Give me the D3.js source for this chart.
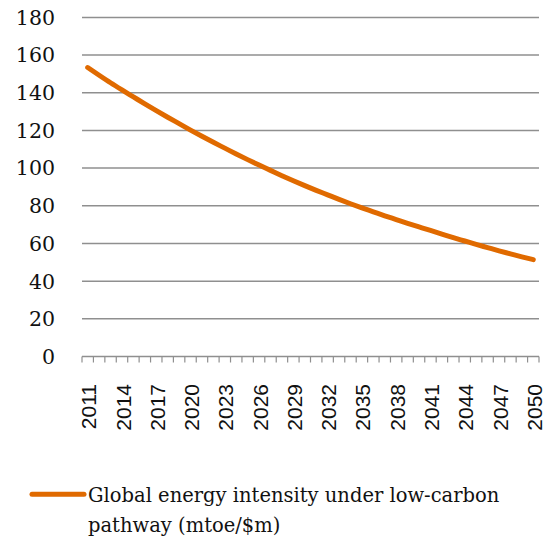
<!DOCTYPE html>
<html>
<head>
<meta charset="utf-8">
<script src="https://cdn.jsdelivr.net/npm/d3@7"></script>
<style>
  html, body { margin: 0; padding: 0; background: #fff; }
  svg { display: block; }
</style>
</head>
<body>
<svg id="chart" width="552" height="539"></svg>
<script>
const years = [2011,2012,2013,2014,2015,2016,2017,2018,2019,2020,
               2021,2022,2023,2024,2025,2026,2027,2028,2029,2030,
               2031,2032,2033,2034,2035,2036,2037,2038,2039,2040,
               2041,2042,2043,2044,2045,2046,2047,2048,2049,2050];
const intensity = [153.4,149.3,145.3,141.5,137.8,134.1,130.5,127.0,123.6,120.2,
                   116.9,113.7,110.6,107.5,104.5,101.6,98.8,96.0,93.3,90.7,
                   88.2,85.8,83.4,81.1,78.9,76.8,74.7,72.7,70.7,68.8,
                   66.9,65.0,63.1,61.3,59.5,57.8,56.1,54.5,52.9,51.4];
const yTicks = [0,20,40,60,80,100,120,140,160,180];
const xLabelYears = [2011,2014,2017,2020,2023,2026,2029,2032,2035,2038,2041,2044,2047,2050];
const seriesName = ["Global energy intensity under low-carbon", "pathway (mtoe/$m)"];

const svg = d3.select("#chart");
const pLeft = 82, pRight = 539, pTop = 17.4, pBottom = 356.5;
const orange = "#e06a00";
const grid = "#8f8f8f";

const x = d3.scaleBand().domain(years).range([pLeft, pRight]).padding(0);
const y = d3.scaleLinear().domain([0, 180]).range([pBottom, pTop]);

// gridlines
svg.append("g").selectAll("line").data(yTicks.filter(d => d > 0)).join("line")
  .attr("x1", pLeft).attr("x2", pRight)
  .attr("y1", d => y(d)).attr("y2", d => y(d))
  .attr("stroke", grid).attr("stroke-width", 1.5);

// y labels
svg.append("g").selectAll("text").data(yTicks).join("text")
  .attr("x", 55).attr("y", d => y(d)).attr("dy", "0.36em")
  .attr("text-anchor", "end")
  .attr("font-family", "'DejaVu Serif', serif").attr("font-size", 20.5)
  .attr("fill", "#111")
  .text(d => d);

// x axis line + ticks at band boundaries
svg.append("line").attr("x1", pLeft).attr("x2", pRight)
  .attr("y1", pBottom).attr("y2", pBottom)
  .attr("stroke", grid).attr("stroke-width", 1.5);
const bounds = years.map(d => x(d)).concat([x(years[years.length-1]) + x.bandwidth()]);
svg.append("g").selectAll("line").data(bounds).join("line")
  .attr("x1", d => d).attr("x2", d => d)
  .attr("y1", pBottom).attr("y2", pBottom + 6)
  .attr("stroke", grid).attr("stroke-width", 1.2);

// x labels
svg.append("g").selectAll("text").data(xLabelYears).join("text")
  .attr("transform", d => `translate(${x(d) + x.bandwidth()/2 + 1},384) rotate(-90)`)
  .attr("dy", "0.36em")
  .attr("text-anchor", "end")
  .attr("font-family", "'Liberation Sans', Arial, sans-serif").attr("font-size", 21)
  .attr("fill", "#111")
  .text(d => d);

// line
const line = d3.line()
  .x((d, i) => x(years[i]) + x.bandwidth()/2)
  .y(d => y(d))
  .curve(d3.curveMonotoneX);
svg.append("path").datum(intensity)
  .attr("d", line)
  .attr("fill", "none").attr("stroke", orange)
  .attr("stroke-width", 5).attr("stroke-linecap", "round").attr("stroke-linejoin", "round");

// legend
svg.append("line").attr("x1", 32).attr("x2", 84).attr("y1", 494.3).attr("y2", 494.3)
  .attr("stroke", orange).attr("stroke-width", 5).attr("stroke-linecap", "round");
svg.append("g").selectAll("text").data(seriesName).join("text")
  .attr("x", 88).attr("y", (d, i) => 502 + i * 29.5)
  .attr("font-family", "'DejaVu Serif', serif").attr("font-size", 19.5)
  .attr("fill", "#111")
  .text(d => d);
</script>
</body>
</html>
